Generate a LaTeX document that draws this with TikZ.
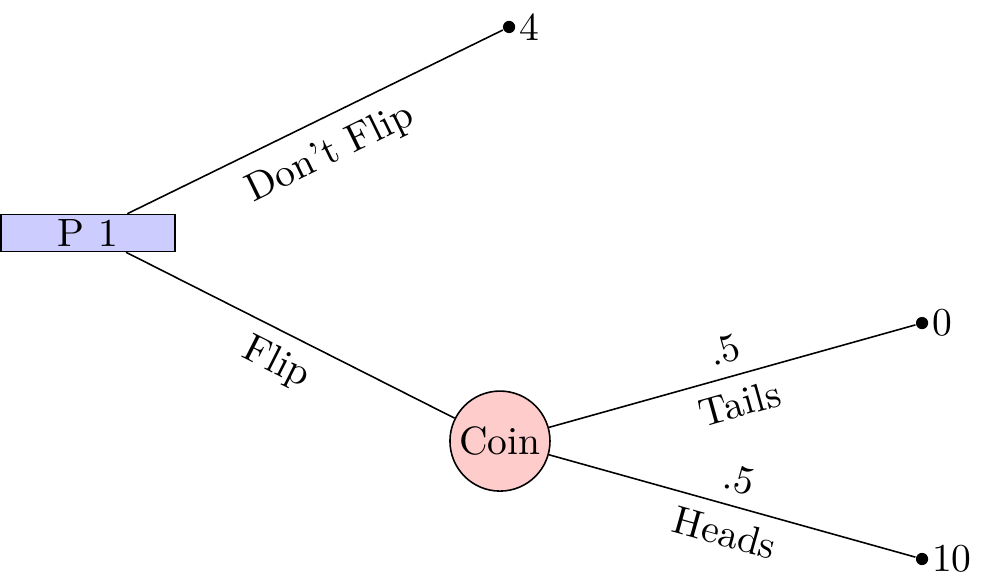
\documentclass[tikz,border=0pt]{standalone}
\usepackage{tikz}
\usetikzlibrary{positioning}
\tikzset{
	player/.style={draw,fill=blue!20,minimum width=1.545cm,minimum height=0.329cm,inner sep=0pt},
	chance/.style={draw,circle,fill=red!20,minimum size=0.89cm,inner sep=0pt},
	payoff/.style={circle,fill=black,inner sep=0pt,minimum size=3.1pt},
	payval/.style={right,inner sep=0.6pt}
}

\begin{document}
\begin{tikzpicture}
	\useasboundingbox (0,0) rectangle (8.763,-5.213);
	%NODES
	\node[player] (p1) at (0.782,-2.073) {P 1};
	\node[chance] (coin) at (4.448,-3.924) {Coin};
	\node[payoff] (out4) at (4.529,-0.240) {};
	\node[payoff] (out0) at (8.203,-2.874) {};
	\node[payoff] (out10) at (8.203,-4.973) {};
	%
	\node[payval] at (out4.east) {4};
	\node[payval] at (out0.east) {0};
	\node[payval] at (out10.east) {10};
	
	%BRANCHES
	\draw (p1) -- node[below=1pt,sloped] {Don't Flip} (out4);
	\draw (p1) -- node[below,sloped] {Flip} (coin);
	\draw (coin) -- node[above,sloped] {.5} node[below,sloped] {Tails} (out0);
	\draw (coin) -- node[above,sloped] {.5} node[below,sloped] {Heads} (out10);
\end{tikzpicture}
\end{document}
